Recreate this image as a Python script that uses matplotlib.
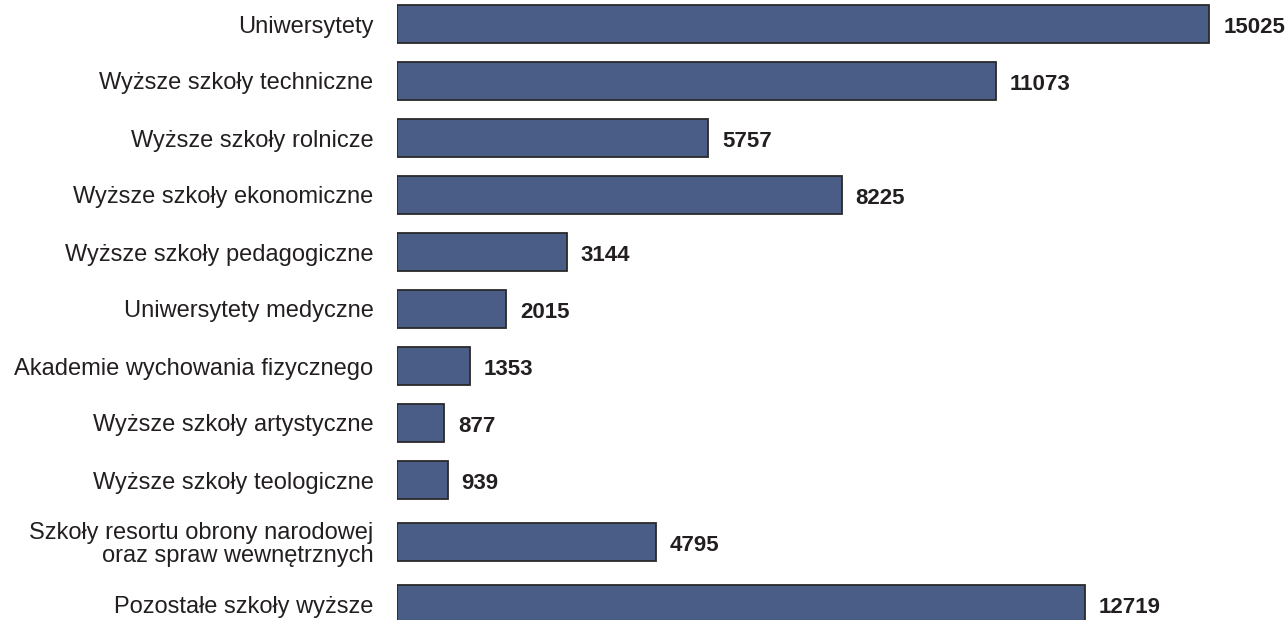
import numpy as np
import matplotlib.pyplot as plt

categories = ['Uniwersytety',
              'Wyższe szkoły techniczne',
              'Wyższe szkoły rolnicze',
              'Wyższe szkoły ekonomiczne',
              'Wyższe szkoły pedagogiczne',
              'Uniwersytety medyczne',
              'Akademie wychowania fizycznego',
              'Wyższe szkoły artystyczne',
              'Wyższe szkoły teologiczne',
              'Szkoły resortu obrony narodowej\noraz spraw wewnętrznych',
              'Pozostałe szkoły wyższe']
values = [15025, 11073, 5757, 8225, 3144, 2015, 1353, 877, 939, 4795, 12719]

plt.rcParams['font.family'] = ['Liberation Sans', 'DejaVu Sans']

# slightly larger gap around the two-line label
pos = np.arange(len(values), dtype=float)
pos[9:] += 5 / 57
pos[10:] += 5 / 57

fig = plt.figure(figsize=(12.87, 6.2), dpi=100)
ax = fig.add_axes([397 / 1287, 0, 1 - 397 / 1287, 1])
ax.barh(pos, values, height=38 / 57, color='#4a5d87', edgecolor='#2a2a2a', linewidth=1.3)
for p, v in zip(pos, values):
    ax.annotate(str(v), (v, p), xytext=(10, -1), textcoords='offset points',
                va='center_baseline', ha='left', fontsize=16, fontweight='bold', color='#231f20')

ax.set_yticks(pos)
ax.set_yticklabels(categories, fontsize=17, color='#231f20', linespacing=1.05,
                   va='center_baseline')
ax.tick_params(axis='y', length=0, pad=17)
ax.set_xlim(0, (1287 - 397) / 0.05406)
ax.set_ylim((620 - 24) / 57, -24 / 57)
ax.xaxis.set_visible(False)
for s in ax.spines.values():
    s.set_visible(False)

fig.savefig('out.png', dpi=100)
